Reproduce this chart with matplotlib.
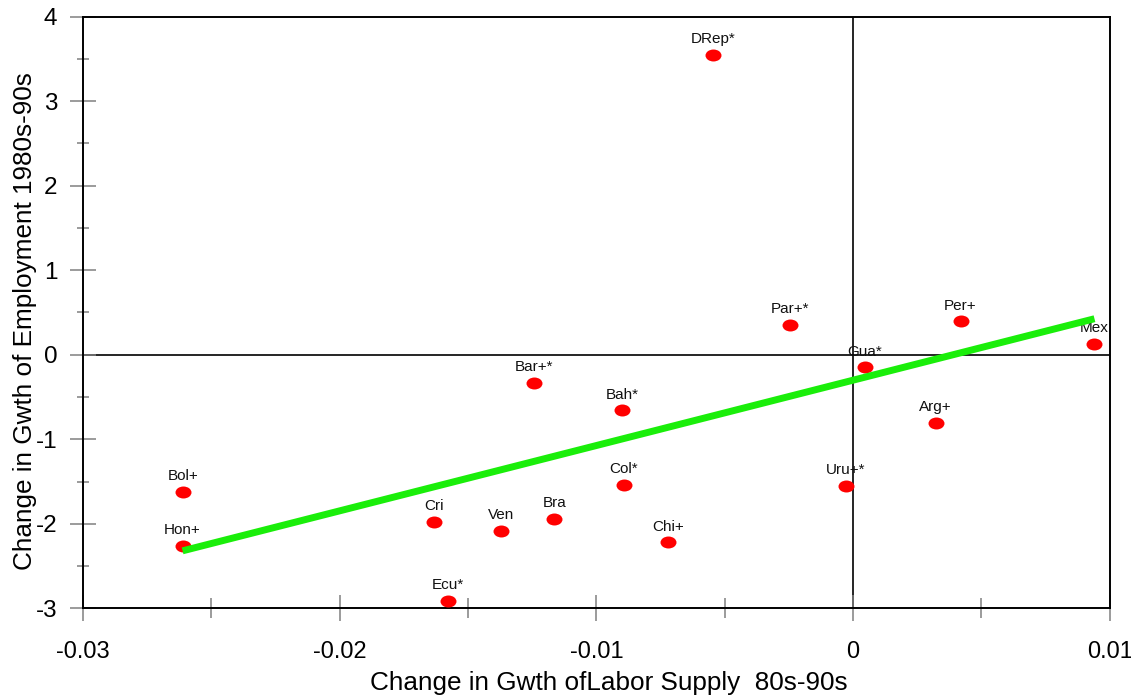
import matplotlib
matplotlib.use("Agg")
import matplotlib.pyplot as plt
from matplotlib.path import Path
from matplotlib.transforms import Affine2D
from matplotlib.ticker import MultipleLocator

plt.rcParams['font.family'] = ['Liberation Sans', 'DejaVu Sans']
plt.rcParams['axes.unicode_minus'] = False

# countries (label, labour supply change, employment change)
countries = ['DRep*', 'Par+*', 'Per+', 'Mex', 'Gua*', 'Arg+', 'Uru+*',
             'Bar+*', 'Bah*', 'Col*', 'Cri', 'Ven', 'Bra', 'Chi+', 'Ecu*',
             'Bol+', 'Hon+']
labor_change = [-0.00545, -0.00247, 0.00419, 0.00940, 0.00046, 0.00322, -0.00027,
                -0.01244, -0.00900, -0.00892, -0.01633, -0.01373, -0.01163, -0.00722, -0.01577,
                -0.02609, -0.02612]
emp_change = [3.550, 0.355, 0.394, 0.130, -0.150, -0.805, -1.554,
              -0.335, -0.659, -1.538, -1.980, -2.083, -1.941, -2.221, -2.908,
              -1.618, -2.257]

# fitted line end points
fit_x = [-0.02612, 0.00941]
fit_y = [-2.320, 0.426]

x_ticks = [-0.03, -0.02, -0.01, 0, 0.01]
x_ticklabels = ['-0.03', '-0.02', '-0.01', '0', '0.01']

fig = plt.figure(figsize=(11.31, 6.98), dpi=100)
ax = fig.add_axes([0.0734, 0.1285, 0.9077, 0.8476])

# zero lines
ax.axhline(0, color='black', lw=1.2, zorder=1)
ax.axvline(0, color='black', lw=1.2, zorder=1)

# ellipse marker (wider than tall)
ell = Path.unit_circle().transformed(Affine2D().scale(1.0, 0.75))
ax.plot(labor_change, emp_change, linestyle='none', marker=ell, markersize=11.5,
        color='#ff0000', markeredgewidth=0, zorder=3)

for name, xv, yv in zip(countries, labor_change, emp_change):
    ax.annotate(name, (xv, yv), xytext=(0, 8.5), textcoords='offset points',
                ha='center', va='baseline', fontsize=11, color='#111111', zorder=4)

ax.plot(fit_x, fit_y, color='#1aee0a', lw=5, solid_capstyle='butt', zorder=5)

ax.set_xlim(-0.03, 0.01)
ax.set_ylim(-3, 4)
ax.set_xticks(x_ticks)
ax.set_xticklabels(x_ticklabels)
ax.xaxis.set_minor_locator(MultipleLocator(0.005))
ax.yaxis.set_major_locator(MultipleLocator(1))
ax.yaxis.set_minor_locator(MultipleLocator(0.5))

ax.tick_params(axis='x', which='major', direction='inout', length=19, width=1.1,
               color='#808080', labelsize=17, pad=14)
ax.tick_params(axis='x', which='minor', direction='inout', length=15, width=1.1,
               color='#808080')
ax.tick_params(axis='y', which='major', direction='inout', length=19, width=1.1,
               color='#808080', labelsize=17.5, pad=9)
ax.tick_params(axis='y', which='minor', direction='inout', length=9, width=1.1,
               color='#808080')

for s in ax.spines.values():
    s.set_linewidth(1.4)
    s.set_color('black')

ax.set_xlabel('Change in Gwth ofLabor Supply  80s-90s', fontsize=18.8)
ax.set_ylabel('Change in Gwth of Employment 1980s-90s', fontsize=18.8)
ax.xaxis.set_label_coords(0.512, -0.106)
ax.yaxis.set_label_coords(-0.045, 0.486)

fig.savefig('out.png', dpi=100)
